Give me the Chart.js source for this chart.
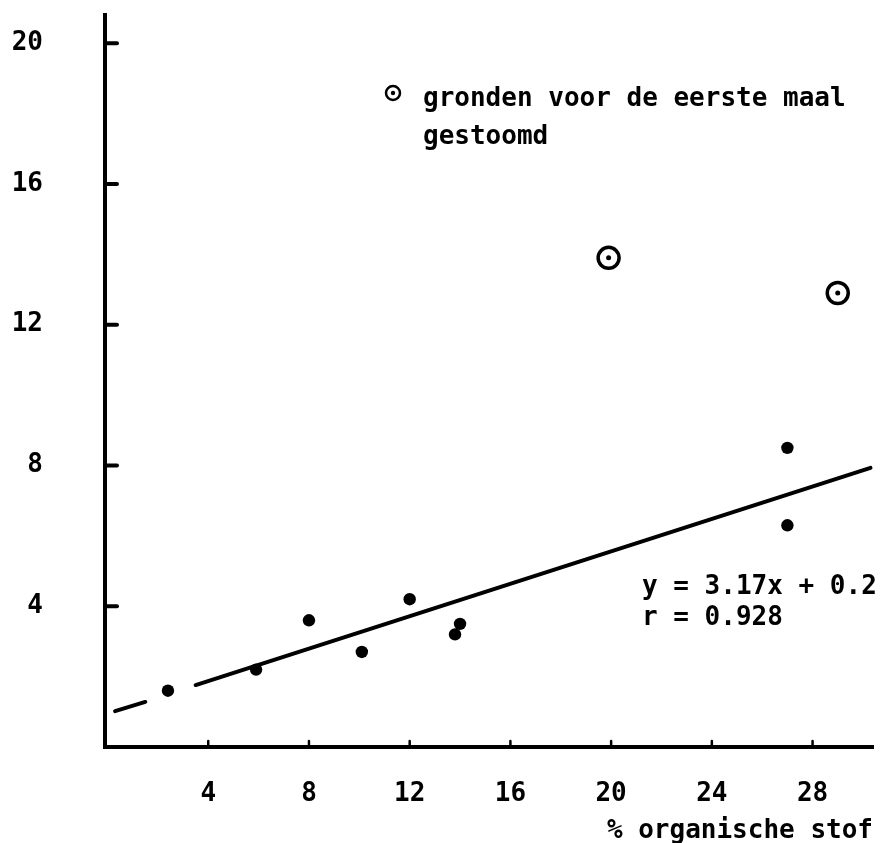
<!DOCTYPE html>
<html><head><meta charset="utf-8">
<script src="https://cdn.jsdelivr.net/npm/chart.js@4.4.1/dist/chart.umd.min.js"></script>
<style>html,body{margin:0;padding:0;background:#fff}#wrap{width:888px;height:843px}</style>
</head><body><div id="wrap"><canvas id="c" width="888" height="843"></canvas></div>
<script>
// tick labels
const xTicks = [4, 8, 12, 16, 20, 24, 28];
const yTicks = [4, 8, 12, 16, 20];
// regular soils (x = % organische stof)
const organicMatter = [2.4, 5.9, 8.0, 10.1, 12.0, 13.8, 14.0, 27.0, 27.0];
const values = [1.6, 2.2, 3.6, 2.7, 4.2, 3.2, 3.5, 8.5, 6.3];
// soils steamed for the first time
const steamedX = [19.9, 29.0];
const steamedY = [13.9, 12.9];
// regression line (dashed part + solid part)
const fitDashX = [0.3, 1.5];
const fitDashY = [1.02, 1.28];
const fitSolidX = [3.5, 30.3];
const fitSolidY = [1.76, 7.93];
// texts
const legendLines = ['gronden voor de eerste maal', 'gestoomd'];
const equationLines = ['y = 3.17x + 0.2', 'r = 0.928'];
const xTitle = '% organische stof';

const FONT = "'DejaVu Sans Mono', 'Liberation Mono', monospace";
const pts = (xs, ys) => xs.map((x, i) => ({x, y: ys[i]}));

const decor = {
  id: 'decor',
  afterDraw(chart) {
    const {ctx, chartArea: a, scales: {x, y}} = chart;
    ctx.save();
    ctx.strokeStyle = '#000';
    ctx.lineCap = 'round';
    // y tick marks (inward)
    ctx.lineWidth = 4;
    yTicks.forEach(v => {
      const py = y.getPixelForValue(v);
      ctx.beginPath(); ctx.moveTo(a.left, py); ctx.lineTo(a.left + 12, py); ctx.stroke();
    });
    // x tick marks (small, upward)
    ctx.lineWidth = 2.5;
    xTicks.forEach(v => {
      const px = x.getPixelForValue(v);
      ctx.beginPath(); ctx.moveTo(px, a.bottom); ctx.lineTo(px, a.bottom - 6); ctx.stroke();
    });
    // legend symbol
    ctx.lineWidth = 2.5;
    ctx.beginPath(); ctx.arc(393, 93, 7, 0, Math.PI * 2); ctx.stroke();
    ctx.fillStyle = '#000';
    ctx.beginPath(); ctx.arc(393, 93, 2.2, 0, Math.PI * 2); ctx.fill();
    // texts
    ctx.font = 'bold 26px ' + FONT;
    ctx.textBaseline = 'middle';
    ctx.textAlign = 'left';
    ctx.fillText(legendLines[0], 423, 99);
    ctx.fillText(legendLines[1], 423, 137);
    ctx.fillText(equationLines[0], 642, 587);
    ctx.fillText(equationLines[1], 642, 618);
    ctx.restore();
  }
};

new Chart(document.getElementById('c'), {
  type: 'scatter',
  data: {
    datasets: [
      {data: pts(organicMatter, values), pointRadius: 6.2, pointBackgroundColor: '#000', pointBorderWidth: 0, order: 1},
      {data: pts(steamedX, steamedY), pointRadius: 2.5, pointBackgroundColor: '#000', pointBorderWidth: 0, order: 1},
      {data: pts(steamedX, steamedY), pointRadius: 10.5, pointBackgroundColor: '#fff', pointBorderColor: '#000', pointBorderWidth: 3.5, order: 2},
      {data: pts(fitDashX, fitDashY), showLine: true, pointRadius: 0, borderColor: '#000', borderWidth: 4, borderCapStyle: 'round', order: 3},
      {data: pts(fitSolidX, fitSolidY), showLine: true, pointRadius: 0, borderColor: '#000', borderWidth: 4, borderCapStyle: 'round', order: 3}
    ]
  },
  options: {
    responsive: false,
    animation: false,
    devicePixelRatio: 1,
    layout: {padding: {top: 15, right: 15, left: 0, bottom: 0}},
    plugins: {legend: {display: false}, tooltip: {enabled: false}},
    scales: {
      x: {
        type: 'linear', min: -0.1, max: 30.4,
        afterBuildTicks: s => { s.ticks = xTicks.map(v => ({value: v})); },
        afterFit: s => { s.height = 96; s.paddingLeft = 0; s.paddingRight = 0; },
        grid: {drawOnChartArea: false, drawTicks: false},
        border: {display: true, color: '#000', width: 4},
        ticks: {padding: 32, color: '#000', font: {family: FONT, size: 26, weight: 'bold'}, autoSkip: false, maxRotation: 0},
        title: {display: true, text: xTitle, align: 'end', color: '#000', padding: 0,
                font: {family: FONT, size: 26, weight: 'bold', lineHeight: 0.9}}
      },
      y: {
        type: 'linear', min: 0, max: 20.8,
        afterBuildTicks: s => { s.ticks = yTicks.map(v => ({value: v})); },
        afterFit: s => { s.width = 105; s.paddingTop = 0; s.paddingBottom = 0; },
        grid: {drawOnChartArea: false, drawTicks: false},
        border: {display: true, color: '#000', width: 4},
        ticks: {padding: 62, color: '#000', font: {family: FONT, size: 26, weight: 'bold'}}
      }
    }
  },
  plugins: [decor]
});
</script>
</body></html>
